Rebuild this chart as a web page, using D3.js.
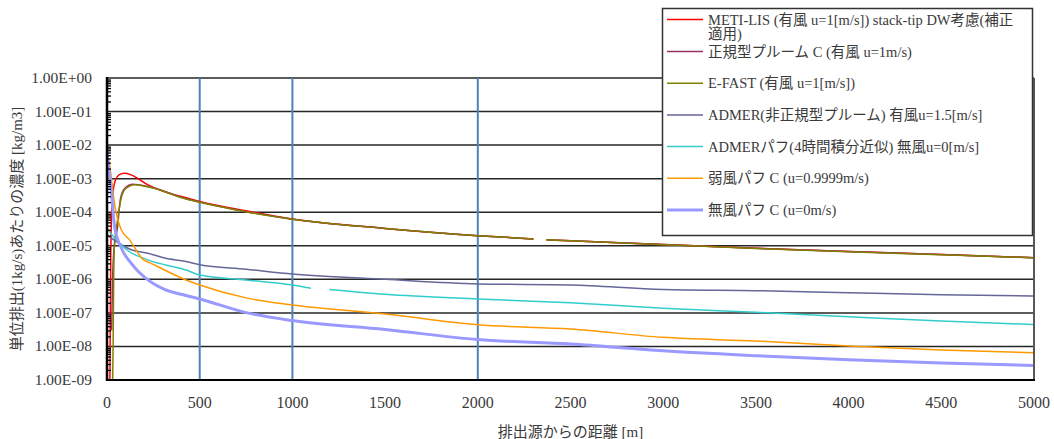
<!DOCTYPE html>
<html>
<head>
<meta charset="utf-8">
<script src="https://cdn.jsdelivr.net/npm/d3@7"></script>
<style>
  body { margin: 0; background: #fff; }
  svg { font-family: "Liberation Serif", "Noto Sans CJK JP", serif; }
</style>
</head>
<body>
<div id="chart"></div>
<script>
// distances [m] and concentrations [kg/m3 per 1kg/s]
const metiD = [15, 18, 20, 25, 35, 45, 65, 95, 130, 221, 300, 436, 500, 750, 1000, 1500, 2000, 2300, null, 2370, 2500, 3000, 3500, 4000, 4500, 5000];
const metiV = [3e-10, 1e-7, 3e-6, 1e-4, 5e-4, 9e-4, 1.3e-3, 1.45e-3, 1.3e-3, 6.5e-4, 4.3e-4, 2.6e-4, 2.1e-4, 1.1e-4, 6.3e-5, 3.3e-5, 2.0e-5, 1.6e-5, null, 1.5e-5, 1.4e-5, 1.1e-5, 8.4e-6, 6.7e-6, 5.5e-6, 4.4e-6];

const plumeD = [25, 30, 35, 41, 55, 73, 95, 140, 221, 436, 500, 750, 1000, 1500, 2000, 2300, null, 2370, 2500, 3000, 3500, 4000, 4500, 5000];
const plumeV = [3e-8, 1e-6, 5e-6, 1.2e-5, 3e-5, 2.6e-4, 5.1e-4, 6.8e-4, 5.8e-4, 2.45e-4, 2.0e-4, 1.04e-4, 6.2e-5, 3.3e-5, 2.0e-5, 1.6e-5, null, 1.5e-5, 1.4e-5, 1.1e-5, 8.4e-6, 6.7e-6, 5.5e-6, 4.4e-6];

const efastD = [28, 33, 36, 40, 55, 75, 100, 150, 221, 436, 500, 750, 1000, 1500, 2000, 2300, null, 2370, 2500, 3000, 3500, 4000, 4500, 5000];
const efastV = [1e-10, 1e-8, 1e-6, 1e-5, 5e-5, 2.4e-4, 5e-4, 6.6e-4, 5.7e-4, 2.4e-4, 2.0e-4, 1.03e-4, 6.2e-5, 3.3e-5, 2.0e-5, 1.6e-5, null, 1.5e-5, 1.4e-5, 1.08e-5, 8.3e-6, 6.6e-6, 5.4e-6, 4.4e-6];

const admerD = [0, 131, 221, 310, 426, 500, 750, 1000, 1500, 2000, 2500, 3000, 3500, 4000, 4500, 5000];
const admerV = [2.1e-5, 7.6e-6, 6e-6, 4.3e-6, 3.4e-6, 2.7e-6, 2.0e-6, 1.45e-6, 1.0e-6, 7.3e-7, 6.8e-7, 5.0e-7, 4.6e-7, 4.0e-7, 3.5e-7, 3.2e-7];

const puffD = [0, 50, 100, 221, 426, 500, 750, 1000, 1100, null, 1200, 1500, 2000, 2500, 3000, 3500, 4000, 4500, 5000];
const puffV = [3.3e-5, 1.5e-5, 8e-6, 3.8e-6, 1.9e-6, 1.35e-6, 9.6e-7, 6.8e-7, 5.4e-7, null, 5.0e-7, 3.6e-7, 2.6e-7, 2.0e-7, 1.37e-7, 1.04e-7, 7.7e-8, 5.7e-8, 4.5e-8];

const weakD = [0, 10, 17, 30, 43, 77, 122, 193, 238, 426, 500, 750, 1000, 1500, 2000, 2500, 3000, 3500, 4000, 4500, 5000];
const weakV = [5e-3, 3.5e-3, 2e-3, 5e-4, 1.5e-4, 3e-5, 1.5e-5, 4e-6, 3e-6, 9.6e-7, 6.8e-7, 2.8e-7, 1.73e-7, 9.3e-8, 4.4e-8, 3.3e-8, 1.87e-8, 1.45e-8, 1.03e-8, 7.9e-9, 6.5e-9];

const calmD = [0, 10, 23, 41, 80, 131, 221, 310, 426, 500, 750, 1000, 1500, 2000, 2500, 3000, 3500, 4000, 4500, 5000];
const calmV = [6e-3, 2e-3, 4.6e-4, 3.7e-5, 8e-6, 3e-6, 9.6e-7, 5.0e-7, 3.3e-7, 2.6e-7, 1.02e-7, 5.9e-8, 3.2e-8, 1.6e-8, 1.18e-8, 7.4e-9, 5.3e-9, 4.0e-9, 3.2e-9, 2.7e-9];

const seriesNames = [
  ['METI-LIS (有風 u=1[m/s]) stack-tip DW考慮(補正', '適用)'],
  ['正規型プルーム C (有風 u=1m/s)'],
  ['E-FAST (有風 u=1[m/s])'],
  ['ADMER(非正規型プルーム) 有風u=1.5[m/s]'],
  ['ADMERパフ(4時間積分近似) 無風u=0[m/s]'],
  ['弱風パフ C (u=0.9999m/s)'],
  ['無風パフ C (u=0m/s)']
];
const seriesColors = ['#ff0000', '#993366', '#808000', '#666699', '#33cccc', '#ff9900', '#9999ff'];
const seriesWidths = [1.5, 1.5, 1.5, 1.5, 1.5, 1.5, 3];
const seriesD = [metiD, plumeD, efastD, admerD, puffD, weakD, calmD];
const seriesV = [metiV, plumeV, efastV, admerV, puffV, weakV, calmV];

const refLines = [500, 1000, 2000];
const xTicks = [0, 500, 1000, 1500, 2000, 2500, 3000, 3500, 4000, 4500, 5000];
const yTicks = [1e0, 1e-1, 1e-2, 1e-3, 1e-4, 1e-5, 1e-6, 1e-7, 1e-8, 1e-9];

const width = 1054, height = 439;
const pLeft = 107, pRight = 1034, pTop = 78, pBottom = 380;
const textColor = '#3a3a3a';

const svg = d3.select('#chart').append('svg')
    .attr('width', width)
    .attr('height', height);

const x = d3.scaleLinear().domain([0, 5000]).range([pLeft, pRight]);
const y = d3.scaleLog().domain([1e-9, 1]).range([pBottom, pTop]);

svg.append('defs').append('clipPath').attr('id', 'plot')
    .append('rect')
    .attr('x', pLeft).attr('y', pTop)
    .attr('width', pRight - pLeft).attr('height', pBottom - pTop);

// gridlines
svg.append('g').selectAll('line')
    .data(yTicks.slice(0, -1))
    .enter().append('line')
    .attr('x1', pLeft).attr('x2', pRight)
    .attr('y1', d => y(d)).attr('y2', d => y(d))
    .attr('stroke', '#262626')
    .attr('stroke-width', 1.5);

// reference distances
svg.append('g').selectAll('line')
    .data(refLines)
    .enter().append('line')
    .attr('x1', d => x(d)).attr('x2', d => x(d))
    .attr('y1', pTop).attr('y2', pBottom)
    .attr('stroke', '#4f81bd')
    .attr('stroke-width', 2);

// series
const line = d3.line()
    .defined(d => d[0] !== null && d[1] !== null)
    .curve(d3.curveMonotoneX)
    .x(d => x(d[0]))
    .y(d => y(d[1]));

const plot = svg.append('g').attr('clip-path', 'url(#plot)');
seriesD.forEach((ds, i) => {
    const pts = ds.map((d, j) => [d, seriesV[i][j]]);
    plot.append('path')
        .datum(pts)
        .attr('fill', 'none')
        .attr('stroke', seriesColors[i])
        .attr('stroke-width', seriesWidths[i])
        .attr('stroke-linejoin', 'round')
        .attr('d', line);
});

// frame
svg.append('line')
    .attr('x1', pRight).attr('x2', pRight).attr('y1', pTop).attr('y2', pBottom)
    .attr('stroke', '#595959').attr('stroke-width', 2);
svg.append('line')
    .attr('x1', pLeft).attr('x2', pRight + 1).attr('y1', pBottom).attr('y2', pBottom)
    .attr('stroke', '#000').attr('stroke-width', 2);

// y axis with minor ticks inside
const minor = [];
yTicks.slice(1).forEach(t => { for (let k = 2; k <= 9; k++) minor.push(t * k); });
svg.append('g')
    .attr('transform', `translate(${pLeft},0)`)
    .call(d3.axisRight(y).tickValues(minor).tickSize(4).tickFormat(''))
    .call(g => g.select('.domain').remove())
    .call(g => g.selectAll('line').attr('stroke', '#000').attr('stroke-width', 1.3));
svg.append('line')
    .attr('x1', pLeft).attr('x2', pLeft).attr('y1', pTop - 1).attr('y2', pBottom + 1)
    .attr('stroke', '#000').attr('stroke-width', 2.5);

svg.append('g').selectAll('text')
    .data(yTicks)
    .enter().append('text')
    .attr('x', 92)
    .attr('y', d => y(d) + 5)
    .attr('text-anchor', 'end')
    .attr('font-size', 15.5)
    .attr('fill', textColor)
    .text(d => d3.format('.2e')(d).replace('e', 'E').replace(/E([+-])(\d)$/, 'E$10$2'));

svg.append('g').selectAll('text')
    .data(xTicks)
    .enter().append('text')
    .attr('x', d => x(d))
    .attr('y', 408)
    .attr('text-anchor', 'middle')
    .attr('font-size', 16)
    .attr('fill', textColor)
    .text(d => d);

svg.append('text')
    .attr('x', (pLeft + pRight) / 2)
    .attr('y', 437)
    .attr('text-anchor', 'middle')
    .attr('font-size', 15)
    .attr('fill', textColor)
    .text('排出源からの距離 [m]');

svg.append('text')
    .attr('transform', `translate(22,${(pTop + pBottom) / 2}) rotate(-90)`)
    .attr('text-anchor', 'middle')
    .attr('font-size', 15)
    .attr('fill', textColor)
    .text('単位排出(1kg/s)あたりの濃度 [kg/m3]');

// legend
const legend = svg.append('g');
legend.append('rect')
    .attr('x', 662.5).attr('y', 8.5)
    .attr('width', 370).attr('height', 227)
    .attr('fill', '#fff')
    .attr('stroke', '#333')
    .attr('stroke-width', 1.5);

const rowY = i => i === 0 ? 19.5 : 51.5 + (i - 1) * 31.7;
seriesNames.forEach((name, i) => {
    const cy = rowY(i);
    legend.append('line')
        .attr('x1', 667).attr('x2', 703)
        .attr('y1', cy).attr('y2', cy)
        .attr('stroke', seriesColors[i])
        .attr('stroke-width', seriesWidths[i]);
    const t = legend.append('text')
        .attr('x', 708)
        .attr('y', cy + 5)
        .attr('font-size', 14.5)
        .attr('fill', textColor);
    name.forEach((s, j) => {
        t.append('tspan').attr('x', 708).attr('dy', j === 0 ? 0 : 14).text(s);
    });
});
</script>
</body>
</html>
